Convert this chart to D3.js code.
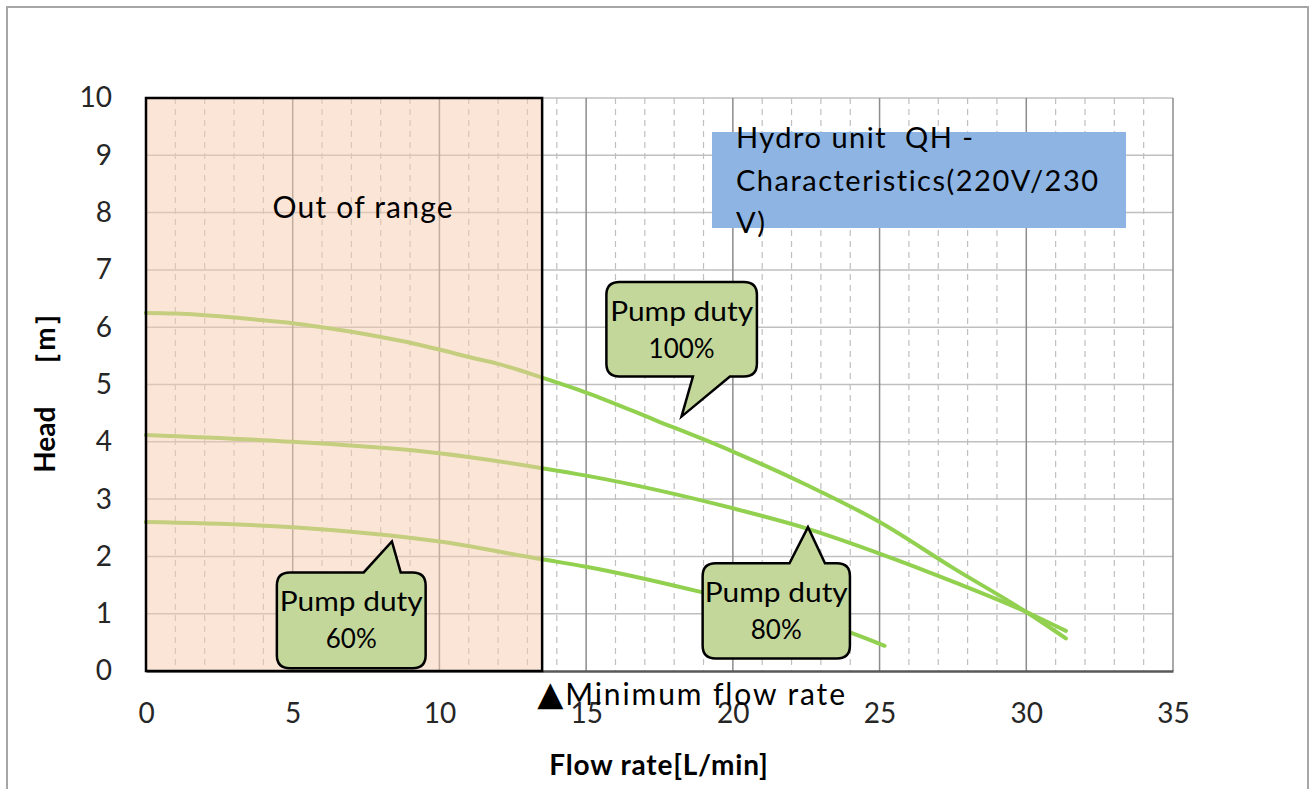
<!DOCTYPE html>
<html>
<head>
<meta charset="utf-8">
<script src="https://cdn.jsdelivr.net/npm/d3@7"></script>
<style>
  body { margin: 0; background: #fff; }
  text { font-family: Lato, "Noto Sans", sans-serif; }
</style>
</head>
<body>
<svg id="chart" width="1310" height="789"></svg>
<script>
// pump curves (flow L/min, head m)
let flow100 = [0, 1, 2, 3, 4, 5, 6, 7, 8, 9, 10, 11, 12, 13.5, 15, 17.35, 20, 22.5, 25, 27.5, 30, 31.35];
let head100 = [6.25, 6.24, 6.21, 6.17, 6.12, 6.07, 6.0, 5.92, 5.83, 5.73, 5.61, 5.48, 5.36, 5.12, 4.86, 4.38, 3.83, 3.25, 2.6, 1.8, 1.03, 0.57];
let flow80 = [0, 5, 10, 13.5, 15, 20, 22.5, 25, 27.5, 30, 31.35];
let head80 = [4.12, 4.0, 3.8, 3.54, 3.41, 2.84, 2.49, 2.05, 1.56, 1.03, 0.70];
let flow60 = [0, 5, 10, 13.5, 15, 18.9, 24.06, 25.17];
let head60 = [2.6, 2.51, 2.26, 1.95, 1.82, 1.38, 0.66, 0.44];

let xTicks = [0, 5, 10, 15, 20, 25, 30, 35];
let yTicks = [0, 1, 2, 3, 4, 5, 6, 7, 8, 9, 10];
let minFlow = 13.5;

// callouts: box [x0, x1, yTop, yBottom], tail base [a, b], tip [x, y], in data units
let callouts = [
  { label: "100%", box: [15.69, 20.82, 6.79, 5.14], side: "bottom", base: [18.64, 19.9], tip: [18.25, 4.44] },
  { label: "80%", box: [18.97, 23.99, 1.88, 0.22], side: "top", base: [21.93, 23.14], tip: [22.56, 2.51] },
  { label: "60%", box: [4.46, 9.53, 1.72, 0.05], side: "top", base: [7.42, 8.68], tip: [8.38, 2.26] }
];

let svg = d3.select("#chart");
let x = d3.scaleLinear().domain([0, 35]).range([146, 1173]);
let y = d3.scaleLinear().domain([0, 10]).range([671, 98]);

// outer frame
svg.append("rect")
  .attr("x", 7).attr("y", 7).attr("width", 1301).attr("height", 800)
  .attr("fill", "#fff").attr("stroke", "#a6a6a6").attr("stroke-width", 2);

// grid
let grid = svg.append("g");
grid.selectAll(".minor")
  .data(d3.range(1, 35).filter(d => d % 5 != 0))
  .enter().append("line")
  .attr("x1", d => x(d)).attr("x2", d => x(d))
  .attr("y1", y(10)).attr("y2", y(0))
  .attr("stroke", "#bfbfbf").attr("stroke-width", 1.2)
  .attr("stroke-dasharray", "6,5");
grid.selectAll(".hline")
  .data(yTicks.slice(1))
  .enter().append("line")
  .attr("x1", x(0)).attr("x2", x(35))
  .attr("y1", d => y(d)).attr("y2", d => y(d))
  .attr("stroke", "#bfbfbf").attr("stroke-width", 1.5);
grid.selectAll(".major")
  .data(xTicks.slice(1))
  .enter().append("line")
  .attr("x1", d => x(d)).attr("x2", d => x(d))
  .attr("y1", y(10)).attr("y2", y(0))
  .attr("stroke", "#8c8c8c").attr("stroke-width", 1.5);

// axes
let xAxis = svg.append("g")
  .attr("transform", "translate(0," + y(0) + ")")
  .call(d3.axisBottom(x).tickValues(xTicks).tickSize(0).tickPadding(32));
xAxis.select(".domain").attr("stroke", "#595959").attr("stroke-width", 2.5);
xAxis.selectAll("text").attr("font-size", 28).attr("fill", "#262626")
  .attr("font-family", "Lato");

let yAxis = svg.append("g")
  .attr("transform", "translate(" + x(0) + ",0)")
  .call(d3.axisLeft(y).tickValues(yTicks).tickSize(0).tickPadding(34));
yAxis.select(".domain").remove();
yAxis.selectAll("text").attr("font-size", 28).attr("fill", "#262626")
  .attr("font-family", "Lato");

// curves
let line = d3.line()
  .x(d => x(d[0]))
  .y(d => y(d[1]))
  .curve(d3.curveMonotoneX);
let series = [
  d3.zip(flow100, head100),
  d3.zip(flow80, head80),
  d3.zip(flow60, head60)
];
svg.selectAll(".curve")
  .data(series)
  .enter().append("path")
  .attr("class", "curve")
  .attr("d", line)
  .attr("fill", "none")
  .attr("stroke", "#92d050")
  .attr("stroke-width", 4)
  .attr("stroke-linecap", "round");

// out of range zone
svg.append("rect")
  .attr("x", x(0)).attr("y", y(10))
  .attr("width", x(minFlow) - x(0)).attr("height", y(0) - y(10))
  .attr("fill", "#f8cbad").attr("fill-opacity", 0.5)
  .attr("stroke", "#000").attr("stroke-width", 2.5);
svg.append("text")
  .attr("x", x(7.4)).attr("y", 218)
  .attr("text-anchor", "middle")
  .attr("font-size", 30).attr("letter-spacing", 1.2)
  .text("Out of range");

// title box
svg.append("rect")
  .attr("x", 712).attr("y", 132).attr("width", 414).attr("height", 96)
  .attr("fill", "#8db4e2");
let title = svg.append("text")
  .attr("x", 736).attr("y", 148)
  .attr("font-size", 29).attr("letter-spacing", 1.5);
["Hydro unit  QH -", "Characteristics(220V/230", "V)"].forEach((t, i) => {
  title.append("tspan").attr("x", 736).attr("y", 148 + i * 42.5)
    .attr("xml:space", "preserve").style("white-space", "pre").text(t);
});

// callouts
function calloutPath(c) {
  let x0 = x(c.box[0]), x1 = x(c.box[1]), y0 = y(c.box[2]), y1 = y(c.box[3]);
  let a = x(c.base[0]), b = x(c.base[1]), tx = x(c.tip[0]), ty = y(c.tip[1]);
  let r = 13;
  let p = d3.path();
  p.moveTo(x0 + r, y0);
  if (c.side == "top") { p.lineTo(a, y0); p.lineTo(tx, ty); p.lineTo(b, y0); }
  p.lineTo(x1 - r, y0);
  p.quadraticCurveTo(x1, y0, x1, y0 + r);
  p.lineTo(x1, y1 - r);
  p.quadraticCurveTo(x1, y1, x1 - r, y1);
  if (c.side == "bottom") { p.lineTo(b, y1); p.lineTo(tx, ty); p.lineTo(a, y1); }
  p.lineTo(x0 + r, y1);
  p.quadraticCurveTo(x0, y1, x0, y1 - r);
  p.lineTo(x0, y0 + r);
  p.quadraticCurveTo(x0, y0, x0 + r, y0);
  p.closePath();
  return p.toString();
}
let bubbles = svg.selectAll(".bubble")
  .data(callouts)
  .enter().append("g");
bubbles.append("path")
  .attr("d", calloutPath)
  .attr("fill", "#c4d79b")
  .attr("stroke", "#000")
  .attr("stroke-width", 2.5);
bubbles.append("text")
  .attr("x", d => (x(d.box[0]) + x(d.box[1])) / 2)
  .attr("y", d => y(d.box[2]) + 39)
  .attr("text-anchor", "middle")
  .attr("font-family", "'Noto Sans CJK JP'")
  .attr("font-size", 26)
  .attr("textLength", 143)
  .attr("lengthAdjust", "spacingAndGlyphs")
  .text("Pump duty");
bubbles.append("text")
  .attr("x", d => (x(d.box[0]) + x(d.box[1])) / 2)
  .attr("y", d => y(d.box[2]) + 76)
  .attr("text-anchor", "middle")
  .attr("font-family", "'Noto Sans CJK JP'")
  .attr("font-size", 26)
  .text(d => d.label);

// minimum flow marker
let mf = svg.append("text")
  .attr("x", x(minFlow) - 5).attr("y", 705)
  .attr("font-size", 30).attr("letter-spacing", 1.9);
mf.append("tspan").attr("font-size", 34).attr("font-family", "DejaVu Sans").text("▲");
mf.append("tspan").text("Minimum flow rate");

// axis titles
svg.append("text")
  .attr("x", 659).attr("y", 775)
  .attr("text-anchor", "middle")
  .attr("font-size", 28).attr("font-weight", "bold").attr("letter-spacing", 0.8)
  .text("Flow rate[L/min]");
svg.append("text")
  .attr("transform", "translate(55,386) rotate(-90)")
  .attr("text-anchor", "middle")
  .attr("font-size", 28).attr("font-weight", "bold")
  .text("Head　［m］");
</script>
</body>
</html>
